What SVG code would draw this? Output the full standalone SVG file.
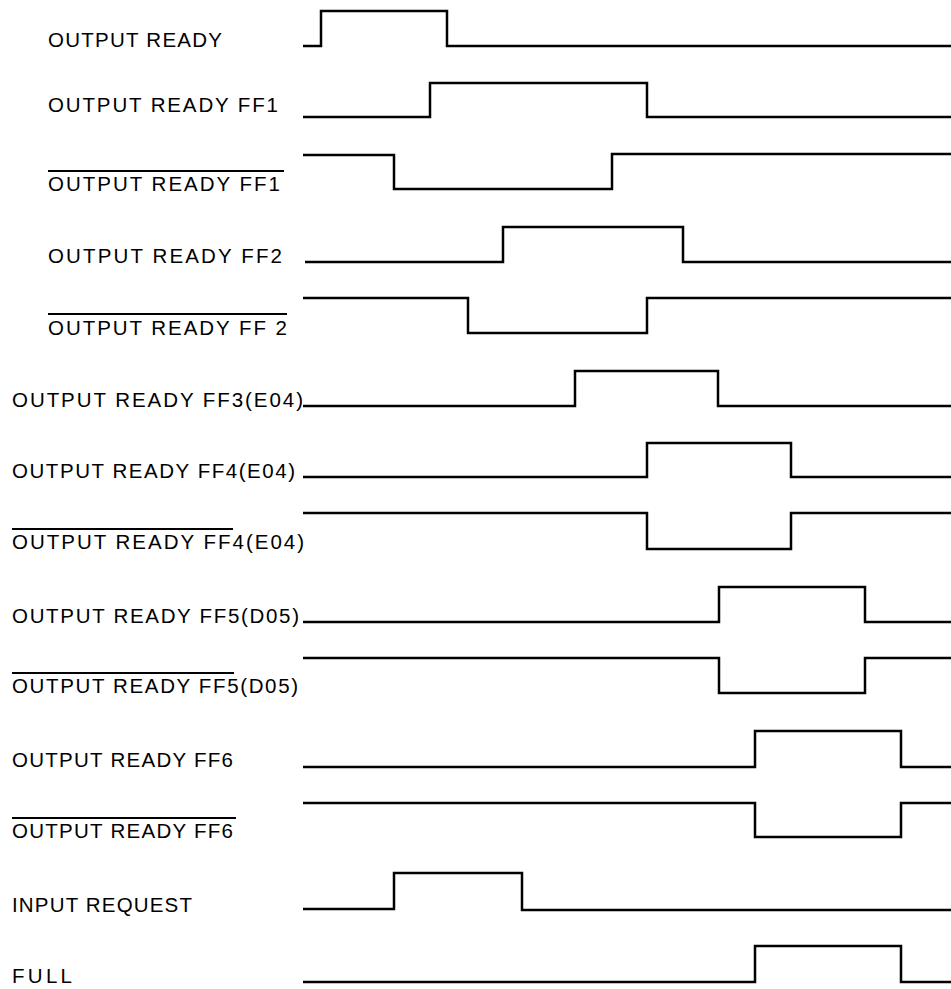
<svg xmlns="http://www.w3.org/2000/svg" width="951" height="989" viewBox="0 0 951 989">
<style>
text{font-family:"Liberation Sans",Arial,sans-serif;font-size:20.5px;fill:#000}
.w{fill:none;stroke:#000;stroke-width:2.5;stroke-linejoin:miter;stroke-linecap:butt}
.o{stroke:#000;stroke-width:2}
</style>
<rect width="951" height="989" fill="#fff"/>
<g id="sig-output-ready">
<text x="48" y="47" textLength="174" lengthAdjust="spacing">OUTPUT READY</text>
<path class="w" d="M303,46 H321 V11 H447 V46 H951"/>
</g>
<g id="sig-ff1">
<text x="48" y="112" textLength="230" lengthAdjust="spacing">OUTPUT READY FF1</text>
<path class="w" d="M303,117 H430 V83 H647 V117 H951"/>
</g>
<g id="sig-ff1-bar">
<line class="o" x1="48" y1="171" x2="284" y2="171"/>
<text x="48" y="191" textLength="232" lengthAdjust="spacing">OUTPUT READY FF1</text>
<path class="w" d="M303,155 H394 V189 H612 V154 H951"/>
</g>
<g id="sig-ff2">
<text x="48" y="263" textLength="234" lengthAdjust="spacing">OUTPUT READY FF2</text>
<path class="w" d="M305,262 H503 V227 H683 V262 H951"/>
</g>
<g id="sig-ff2-bar">
<line class="o" x1="48" y1="314" x2="287" y2="314"/>
<text x="48" y="335" textLength="239" lengthAdjust="spacing">OUTPUT READY FF 2</text>
<path class="w" d="M303,298 H468 V333 H647 V298 H951"/>
</g>
<g id="sig-ff3">
<text x="12" y="407" textLength="291" lengthAdjust="spacing">OUTPUT READY FF3(E04)</text>
<path class="w" d="M303,406 H575 V371 H718 V406 H951"/>
</g>
<g id="sig-ff4">
<text x="12" y="478" textLength="283" lengthAdjust="spacing">OUTPUT READY FF4(E04)</text>
<path class="w" d="M303,477 H647 V443 H791 V477 H951"/>
</g>
<g id="sig-ff4-bar">
<line class="o" x1="12" y1="529" x2="233" y2="529"/>
<text x="12" y="549" textLength="292" lengthAdjust="spacing">OUTPUT READY FF4(E04)</text>
<path class="w" d="M303,513 H647 V549 H791 V513 H951"/>
</g>
<g id="sig-ff5">
<text x="12" y="623" textLength="287" lengthAdjust="spacing">OUTPUT READY FF5(D05)</text>
<path class="w" d="M303,622 H719 V587 H865 V622 H951"/>
</g>
<g id="sig-ff5-bar">
<line class="o" x1="12" y1="673" x2="234" y2="673"/>
<text x="12" y="693" textLength="286" lengthAdjust="spacing">OUTPUT READY FF5(D05)</text>
<path class="w" d="M303,658 H719 V693 H865 V658 H951"/>
</g>
<g id="sig-ff6">
<text x="12" y="767" textLength="221" lengthAdjust="spacing">OUTPUT READY FF6</text>
<path class="w" d="M303,767 H755 V731 H901 V767 H951"/>
</g>
<g id="sig-ff6-bar">
<line class="o" x1="12" y1="818" x2="236" y2="818"/>
<text x="12" y="838" textLength="221" lengthAdjust="spacing">OUTPUT READY FF6</text>
<path class="w" d="M303,803 H755 V837 H901 V803 H951"/>
</g>
<g id="sig-input-request">
<text x="12" y="912" textLength="180" lengthAdjust="spacing">INPUT REQUEST</text>
<path class="w" d="M303,909 H394 V873 H522 V910 H951"/>
</g>
<g id="sig-full">
<text x="12" y="983" textLength="60" lengthAdjust="spacing">FULL</text>
<path class="w" d="M303,982 H755 V946 H901 V982 H951"/>
</g>
</svg>
